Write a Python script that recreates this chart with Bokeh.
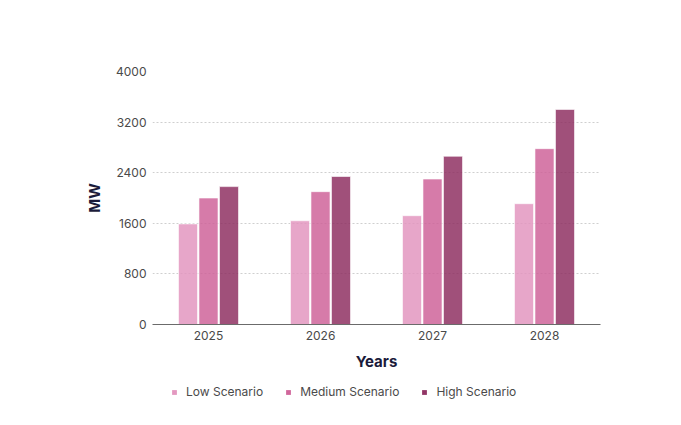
from bokeh.plotting import figure
from bokeh.models import ColumnDataSource, Range1d, FactorRange, Legend, LegendItem, FixedTicker
from bokeh.layouts import column
from bokeh.transform import dodge
from bokeh.embed import file_html
from bokeh.resources import INLINE

years = ["2025", "2026", "2027", "2028"]
low = [1590, 1640, 1720, 1910]
medium = [2000, 2100, 2300, 2780]
high = [2180, 2340, 2660, 3400]
series_names = ["Low Scenario", "Medium Scenario", "High Scenario"]
colors = ["#e292bd", "#cd5e96", "#8b2a5d"]
y_ticks = [0, 800, 1600, 2400, 3200, 4000]

source = ColumnDataSource(dict(years=years, low=low, medium=medium, high=high))

p = figure(x_range=FactorRange(*years), y_range=Range1d(0, 4000),
           frame_width=448, frame_height=253, output_backend="svg", toolbar_location=None,
           min_border_left=152, min_border_right=73, min_border_top=71, min_border_bottom=60)
p.outline_line_color = None
p.background_fill_color = "white"

FONT = "Inter"
keys = ["low", "medium", "high"]
offsets = [-0.183, 0.0, 0.183]
for key, off, col in zip(keys, offsets, colors):
    p.vbar(x=dodge("years", off, range=p.x_range), top=key, width=0.17, source=source,
           fill_color=col, fill_alpha=0.82, line_color="white", line_alpha=0.6, line_width=1)

p.xgrid.grid_line_color = None
p.ygrid.grid_line_color = "#cfcfcf"
p.ygrid.grid_line_dash = "2 2"
p.ygrid.grid_line_width = 1

p.yaxis.ticker = FixedTicker(ticks=y_ticks)
p.yaxis.axis_line_color = None
p.yaxis.major_tick_line_color = None
p.yaxis.minor_tick_line_color = None
p.yaxis.major_tick_out = 0
p.yaxis.minor_tick_out = 0
p.yaxis.major_label_text_font = FONT
p.yaxis.major_label_text_font_size = "12px"
p.yaxis.major_label_text_color = "#4a4a4a"
p.yaxis.major_label_standoff = 6
p.yaxis.axis_label = "MW"
p.yaxis.axis_label_text_font = FONT
p.yaxis.axis_label_text_font_style = "bold"
p.yaxis.axis_label_text_font_size = "15px"
p.yaxis.axis_label_text_color = "#1b1b3a"
p.yaxis.axis_label_standoff = 9

p.xaxis.axis_line_color = "#6b6b6b"
p.xaxis.axis_line_width = 1
p.xaxis.major_tick_line_color = None
p.xaxis.minor_tick_line_color = None
p.xaxis.major_tick_out = 0
p.xaxis.minor_tick_out = 0
p.xaxis.major_label_text_font = FONT
p.xaxis.major_label_text_font_size = "12px"
p.xaxis.major_label_text_color = "#4a4a4a"
p.xaxis.major_label_standoff = 6
p.xaxis.axis_label = "Years"
p.xaxis.axis_label_text_font = FONT
p.xaxis.axis_label_text_font_style = "bold"
p.xaxis.axis_label_text_font_size = "15px"
p.xaxis.axis_label_text_color = "#1b1b3a"
p.xaxis.axis_label_standoff = 9

p.x_range.range_padding = 0
p.x_range.group_padding = 0

# legend strip below the chart
p2 = figure(frame_width=673, frame_height=30, output_backend="svg", toolbar_location=None,
            x_axis_type=None, y_axis_type=None, min_border=0,
            x_range=Range1d(0, 1), y_range=Range1d(0, 1))
p2.outline_line_color = None
p2.xgrid.grid_line_color = None
p2.ygrid.grid_line_color = None
offscreen = ColumnDataSource(dict(x=[float("nan")], top=[float("nan")]))
items = []
for col, name in zip(colors, series_names):
    r = p2.vbar(x="x", top="top", width=0.1, source=offscreen,
                fill_color=col, fill_alpha=0.95, line_color=None)
    items.append(LegendItem(label=name, renderers=[r]))

legend = Legend(items=items, orientation="horizontal", location=(171, 15),
                label_text_font=FONT, label_text_font_size="12px", label_text_color="#4a4a4a",
                glyph_width=6, glyph_height=6, spacing=22, label_standoff=9,
                border_line_color=None, background_fill_alpha=0, padding=4, margin=0)
p2.add_layout(legend, "center")

layout = column(p, p2, spacing=0)
open("out.html", "w").write(file_html(layout, INLINE))
